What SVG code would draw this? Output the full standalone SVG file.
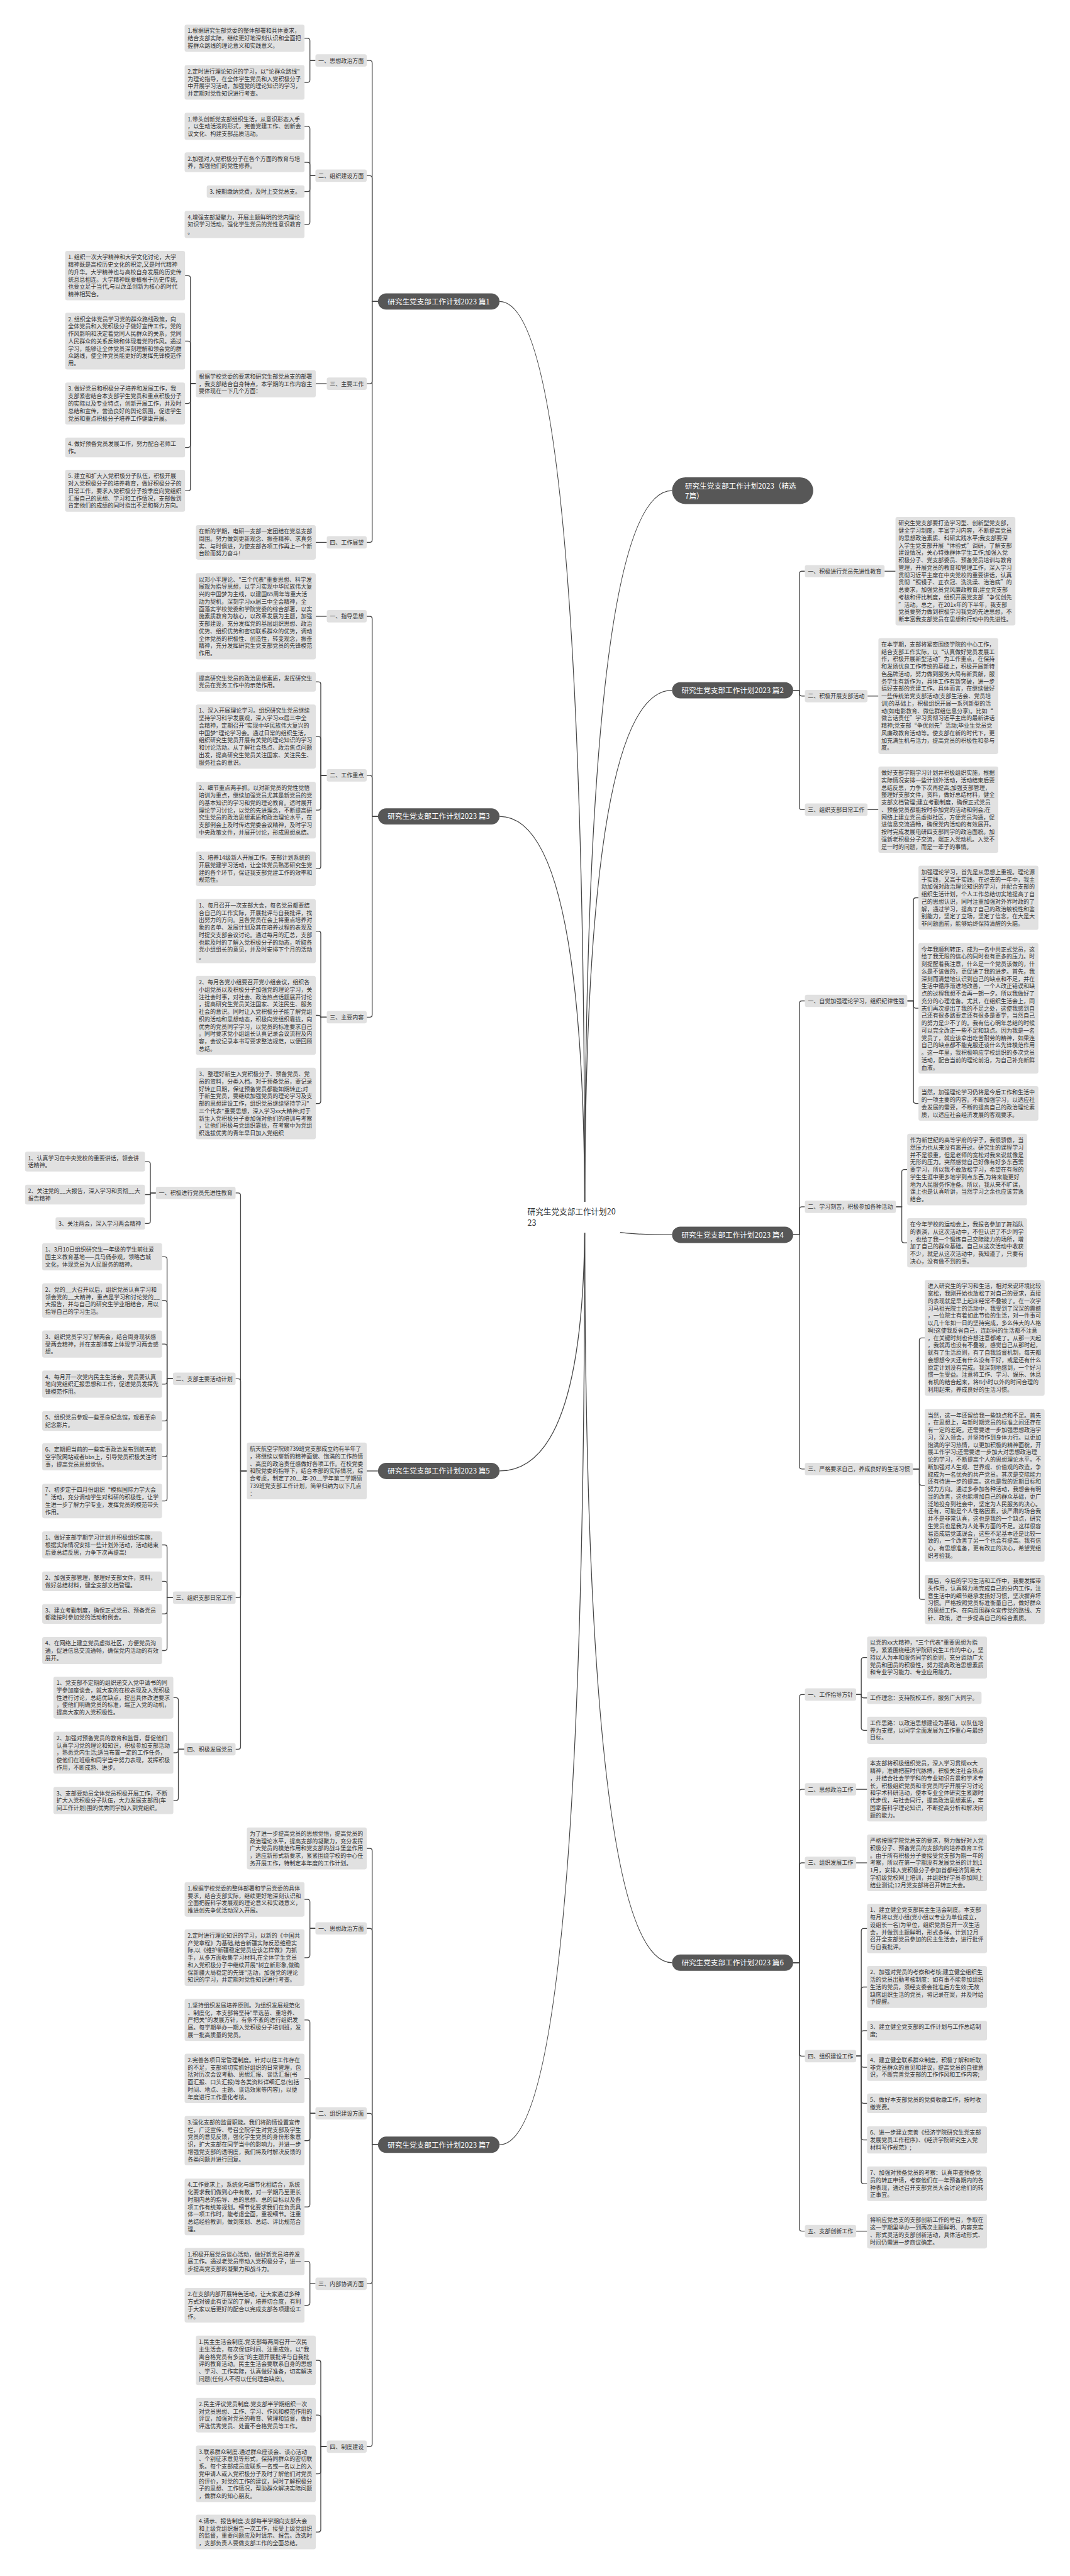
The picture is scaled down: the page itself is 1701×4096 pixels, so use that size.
<svg xmlns="http://www.w3.org/2000/svg" width="1701" height="4096" viewBox="0 0 1701 4096">
<style>
.b{fill:#e1e1e1;rx:5px}
.t{font-family:"Noto Sans CJK SC","Noto Sans",sans-serif;font-size:13.6px;fill:#333}
.p{fill:#575757}
.pt{font-family:"Noto Sans CJK SC","Noto Sans",sans-serif;font-size:17.5px;fill:#fff}
.rt{font-family:"Noto Sans CJK SC","Noto Sans",sans-serif;font-size:19px;fill:#333}
.c{fill:none;stroke:#454545;stroke-width:2}
</style>
<rect width="1701" height="4096" fill="#fff"/>
<g transform="scale(0.664)">
<g id="connectors" class="c">
<path d="M1196 722Q1400 722 1400 2915"/>
<path d="M1196 1955Q1400 1955 1400 2915"/>
<path d="M1196 3522.5Q1400 3522.5 1400 2915"/>
<path d="M1196 5136Q1400 5136 1400 2915"/>
<path d="M1400 2915Q1400 1175 1609 1175"/>
<path d="M1400 2915Q1400 1653 1609 1653"/>
<path d="M1400 2915Q1400 2957 1609 2957"/>
<path d="M1400 2915Q1400 4700 1609 4700"/>
<path d="M905 722H891V150.85Q891 144.85 885 144.85H878"/>
<path d="M905 722H891V426.85Q891 420.85 885 420.85H878"/>
<path d="M905 722H891V912.85Q891 918.85 885 918.85H878"/>
<path d="M905 722H891V1292.85Q891 1298.85 885 1298.85H878"/>
<path d="M755.2 144.85H742V97.55Q742 91.55 736 91.55H729"/>
<path d="M755.2 144.85H742V191.4Q742 197.4 736 197.4H729"/>
<path d="M755.2 420.85H742V308.55Q742 302.55 736 302.55H729"/>
<path d="M755.2 420.85H742V394.7Q742 388.7 736 388.7H729"/>
<path d="M755.2 420.85H742V452.85Q742 458.85 736 458.85H729"/>
<path d="M755.2 420.85H742V531.55Q742 537.55 736 537.55H729"/>
<path d="M782.4 918.85H756"/>
<path d="M469 918.85H456V666.1Q456 660.1 450 660.1H443"/>
<path d="M469 918.85H456V822.95Q456 816.95 450 816.95H443"/>
<path d="M469 918.85H456V960.25Q456 966.25 450 966.25H443"/>
<path d="M469 918.85H456V1065.7Q456 1071.7 450 1071.7H443"/>
<path d="M469 918.85H456V1169.25Q456 1175.25 450 1175.25H443"/>
<path d="M782.4 1298.85H756"/>
<path d="M905 1955H891V1481.85Q891 1475.85 885 1475.85H878"/>
<path d="M905 1955H891V1862.85Q891 1856.85 885 1856.85H878"/>
<path d="M905 1955H891V2429.85Q891 2435.85 885 2435.85H878"/>
<path d="M782.4 1475.85H756"/>
<path d="M782.4 1856.85H768V1638.7Q768 1632.7 762 1632.7H756"/>
<path d="M782.4 1856.85H768V1769.8Q768 1763.8 762 1763.8H756"/>
<path d="M782.4 1856.85H768V1933.95Q768 1939.95 762 1939.95H756"/>
<path d="M782.4 1856.85H768V2074.4Q768 2080.4 762 2080.4H756"/>
<path d="M782.4 2435.85H768V2235.8Q768 2229.8 762 2229.8H756"/>
<path d="M782.4 2435.85H768V2437.5Q768 2431.5 762 2431.5H756"/>
<path d="M782.4 2435.85H768V2636.65Q768 2642.65 762 2642.65H756"/>
<path d="M905 3522.5H878"/>
<path d="M591 3522.5H576V2862.85Q576 2856.85 570 2856.85H564"/>
<path d="M591 3522.5H576V3307.85Q576 3301.85 570 3301.85H564"/>
<path d="M591 3522.5H576V3819.85Q576 3825.85 570 3825.85H564"/>
<path d="M591 3522.5H576V4182.85Q576 4188.85 570 4188.85H564"/>
<path d="M373.2 2856.85H360V2787.7Q360 2781.7 354 2781.7H347"/>
<path d="M373.2 2856.85H360V2860.7H347"/>
<path d="M373.2 2856.85H360V2923.85Q360 2929.85 354 2929.85H347"/>
<path d="M414 3301.85H400V3015.55Q400 3009.55 394 3009.55H388"/>
<path d="M414 3301.85H400V3120.4Q400 3114.4 394 3114.4H388"/>
<path d="M414 3301.85H400V3224.55Q400 3218.55 394 3218.55H388"/>
<path d="M414 3301.85H400V3308.55Q400 3314.55 394 3314.55H388"/>
<path d="M414 3301.85H400V3396.7Q400 3402.7 394 3402.7H388"/>
<path d="M414 3301.85H400V3482.55Q400 3488.55 394 3488.55H388"/>
<path d="M414 3301.85H400V3588.4Q400 3594.4 394 3594.4H388"/>
<path d="M414 3825.85H400V3705.55Q400 3699.55 394 3699.55H388"/>
<path d="M414 3825.85H400V3792.7Q400 3786.7 394 3786.7H388"/>
<path d="M414 3825.85H400V3858.7Q400 3864.7 394 3864.7H388"/>
<path d="M414 3825.85H400V3946.55Q400 3952.55 394 3952.55H388"/>
<path d="M441.2 4188.85H427V4071.25Q427 4065.25 421 4065.25H415"/>
<path d="M441.2 4188.85H427V4191.25Q427 4197.25 421 4197.25H415"/>
<path d="M441.2 4188.85H427V4305.55Q427 4311.55 421 4311.55H415"/>
<path d="M905 5136H891V4432.25Q891 4426.25 885 4426.25H878"/>
<path d="M905 5136H891V4623.85Q891 4617.85 885 4617.85H878"/>
<path d="M905 5136H891V5066.85Q891 5060.85 885 5060.85H878"/>
<path d="M905 5136H891V5462.85Q891 5468.85 885 5468.85H878"/>
<path d="M905 5136H891V5852.85Q891 5858.85 885 5858.85H878"/>
<path d="M755.2 4617.85H742V4554.4Q742 4548.4 736 4548.4H729"/>
<path d="M755.2 4617.85H742V4681.95Q742 4687.95 736 4687.95H729"/>
<path d="M755.2 5060.85H742V4843.25Q742 4837.25 736 4837.25H729"/>
<path d="M755.2 5060.85H742V4983.1Q742 4977.1 736 4977.1H729"/>
<path d="M755.2 5060.85H742V5120.1Q742 5126.1 736 5126.1H729"/>
<path d="M755.2 5060.85H742V5278.95Q742 5284.95 736 5284.95H729"/>
<path d="M755.2 5468.85H742V5421.55Q742 5415.55 736 5415.55H729"/>
<path d="M755.2 5468.85H742V5514.4Q742 5520.4 736 5520.4H729"/>
<path d="M782.4 5858.85H768V5658.1Q768 5652.1 762 5652.1H756"/>
<path d="M782.4 5858.85H768V5789.4Q768 5783.4 762 5783.4H756"/>
<path d="M782.4 5858.85H768V5917.95Q768 5923.95 762 5923.95H756"/>
<path d="M782.4 5858.85H768V6057.4Q768 6063.4 762 6063.4H756"/>
<path d="M1899 1653H1914V1373.85Q1914 1367.85 1920 1367.85H1927"/>
<path d="M1899 1653H1914V1660.85Q1914 1666.85 1920 1666.85H1927"/>
<path d="M1899 1653H1914V1932.85Q1914 1938.85 1920 1938.85H1927"/>
<path d="M2117.8 1367.85H2144"/>
<path d="M2077 1666.85H2103"/>
<path d="M2077 1938.85H2103"/>
<path d="M1899 2957H1914V2402.85Q1914 2396.85 1920 2396.85H1927"/>
<path d="M1899 2957H1914V2895.85Q1914 2889.85 1920 2889.85H1927"/>
<path d="M1899 2957H1914V3511.85Q1914 3517.85 1920 3517.85H1927"/>
<path d="M2172.2 2396.85H2187V2155.8Q2187 2149.8 2193 2149.8H2199"/>
<path d="M2172.2 2396.85H2187V2408.45Q2187 2414.45 2193 2414.45H2199"/>
<path d="M2172.2 2396.85H2187V2636.4Q2187 2642.4 2193 2642.4H2199"/>
<path d="M2145 2889.85H2159V2806.65Q2159 2800.65 2165 2800.65H2172"/>
<path d="M2145 2889.85H2159V2970.1Q2159 2976.1 2165 2976.1H2172"/>
<path d="M2185.8 3517.85H2201V3209.75Q2201 3203.75 2207 3203.75H2214"/>
<path d="M2185.8 3517.85H2201V3551Q2201 3557 2207 3557H2214"/>
<path d="M2185.8 3517.85H2201V3824.1Q2201 3830.1 2207 3830.1H2214"/>
<path d="M1899 4700H1914V4063.85Q1914 4057.85 1920 4057.85H1927"/>
<path d="M1899 4700H1914V4290.85Q1914 4284.85 1920 4284.85H1927"/>
<path d="M1899 4700H1914V4466.85Q1914 4460.85 1920 4460.85H1927"/>
<path d="M1899 4700H1914V4917.85Q1914 4923.85 1920 4923.85H1927"/>
<path d="M1899 4700H1914V5336.85Q1914 5342.85 1920 5342.85H1927"/>
<path d="M2049.8 4057.85H2062V3975.25Q2062 3969.25 2068 3969.25H2076"/>
<path d="M2049.8 4057.85H2062V4059.85Q2062 4065.85 2068 4065.85H2076"/>
<path d="M2049.8 4057.85H2062V4137.55Q2062 4143.55 2068 4143.55H2076"/>
<path d="M2049.8 4284.85H2076"/>
<path d="M2049.8 4460.85H2076"/>
<path d="M2049.8 4923.85H2062V4624.1Q2062 4618.1 2068 4618.1H2076"/>
<path d="M2049.8 4923.85H2062V4764.25Q2062 4758.25 2068 4758.25H2076"/>
<path d="M2049.8 4923.85H2062V4868.7Q2062 4862.7 2068 4862.7H2076"/>
<path d="M2049.8 4923.85H2062V4944.55Q2062 4950.55 2068 4950.55H2076"/>
<path d="M2049.8 4923.85H2062V5030.7Q2062 5036.7 2068 5036.7H2076"/>
<path d="M2049.8 4923.85H2062V5118.55Q2062 5124.55 2068 5124.55H2076"/>
<path d="M2049.8 4923.85H2062V5223.4Q2062 5229.4 2068 5229.4H2076"/>
<path d="M2049.8 5342.85H2076"/>
</g>

<g id="root" transform="translate(1255,2878)"><rect width="230" height="74" fill="#fff"/><text class="rt"><tspan x="8" y="30">研究生党支部工作计划20</tspan><tspan x="8" y="58">23</tspan></text></g>

<g id="main1" transform="translate(905,702.5)"><rect class="p" width="291" height="39" rx="19.5"/><text class="pt" x="145.5" y="26" text-anchor="middle">研究生党支部工作计划2023 篇1</text></g>
<g id="main3" transform="translate(905,1935.5)"><rect class="p" width="291" height="39" rx="19.5"/><text class="pt" x="145.5" y="26" text-anchor="middle">研究生党支部工作计划2023 篇3</text></g>
<g id="main5" transform="translate(905,3503)"><rect class="p" width="291" height="39" rx="19.5"/><text class="pt" x="145.5" y="26" text-anchor="middle">研究生党支部工作计划2023 篇5</text></g>
<g id="main7" transform="translate(905,5116.5)"><rect class="p" width="291" height="39" rx="19.5"/><text class="pt" x="145.5" y="26" text-anchor="middle">研究生党支部工作计划2023 篇7</text></g>
<g id="mainsel" transform="translate(1609,1143)"><rect class="p" width="338" height="64" rx="32"/><text class="pt"><tspan x="31" y="27.6">研究生党支部工作计划2023（精选</tspan><tspan x="31" y="50.6">7篇）</tspan></text></g>
<g id="main2" transform="translate(1609,1633.5)"><rect class="p" width="290" height="39" rx="19.5"/><text class="pt" x="145" y="26" text-anchor="middle">研究生党支部工作计划2023 篇2</text></g>
<g id="main4" transform="translate(1609,2937.5)"><rect class="p" width="290" height="39" rx="19.5"/><text class="pt" x="145" y="26" text-anchor="middle">研究生党支部工作计划2023 篇4</text></g>
<g id="main6" transform="translate(1609,4680.5)"><rect class="p" width="290" height="39" rx="19.5"/><text class="pt" x="145" y="26" text-anchor="middle">研究生党支部工作计划2023 篇6</text></g>

<!-- 篇1 -->
<g id="a-l1" transform="translate(755.2,130)"><rect class="b" width="122.8" height="29.7"/><text class="t" x="7" y="20">一、思想政治方面</text></g>
<g id="a-l2" transform="translate(755.2,406)"><rect class="b" width="122.8" height="29.7"/><text class="t" x="7" y="20">二、组织建设方面</text></g>
<g id="a-l3" transform="translate(782.4,904)"><rect class="b" width="95.6" height="29.7"/><text class="t" x="7" y="20">三、主要工作</text></g>
<g id="a-l4" transform="translate(782.4,1284)"><rect class="b" width="95.6" height="29.7"/><text class="t" x="7" y="20">四、工作展望</text></g>
<g id="a1" transform="translate(442,59)"><rect class="b" width="287" height="65.1"/><text class="t"><tspan x="7" y="20">1.根据研究生部党委的整体部署和具体要求，</tspan><tspan x="7" y="37.7">结合支部实际，继续更好地深刻认识和全面把</tspan><tspan x="7" y="55.4">握群众路线的理论意义和实践意义。</tspan></text></g>
<g id="a2" transform="translate(442,156)"><rect class="b" width="287" height="82.8"/><text class="t"><tspan x="7" y="20">2.定时进行理论知识的学习，以"论群众路线"</tspan><tspan x="7" y="37.7">为理论指导，在全体学生党员和入党积极分子</tspan><tspan x="7" y="55.4">中开展学习活动，加强党的理论知识的学习，</tspan><tspan x="7" y="73.1">并定期对党性知识进行考查。</tspan></text></g>
<g id="b1" transform="translate(442,270)"><rect class="b" width="287" height="65.1"/><text class="t"><tspan x="7" y="20">1.带头创新党支部组织生活，从意识形态入手</tspan><tspan x="7" y="37.7">，以生动活泼的形式，完善党建工作、创新会</tspan><tspan x="7" y="55.4">议文化、构建支部品质活动。</tspan></text></g>
<g id="b2" transform="translate(442,365)"><rect class="b" width="287" height="47.4"/><text class="t"><tspan x="7" y="20">2.加强对入党积极分子在各个方面的教育与培</tspan><tspan x="7" y="37.7">养，加强他们的党性修养。</tspan></text></g>
<g id="b3" transform="translate(495,444)"><rect class="b" width="234" height="29.7"/><text class="t" x="7" y="20">3. 按期缴纳党费，及时上交党总支。</text></g>
<g id="b4" transform="translate(442,505)"><rect class="b" width="287" height="65.1"/><text class="t"><tspan x="7" y="20">4.增强支部凝聚力，开展主题鲜明的党内理论</tspan><tspan x="7" y="37.7">知识学习活动，强化学生党员的党性意识教育</tspan><tspan x="7" y="55.4">。</tspan></text></g>
<g id="c0" transform="translate(469,886.3)"><rect class="b" width="287" height="65.1"/><text class="t"><tspan x="7" y="20">根据学校党委的要求和研究生部党总支的部署</tspan><tspan x="7" y="37.7">，我支部结合自身特点，本学期的工作内容主</tspan><tspan x="7" y="55.4">要体现在一下几个方面：</tspan></text></g>
<g id="c1" transform="translate(156,601)"><rect class="b" width="287" height="118.2"/><text class="t"><tspan x="7" y="20">1. 组织一次大学精神和大学文化讨论，大学</tspan><tspan x="7" y="37.7">精神既是高校历史文化的积淀,又是时代精神</tspan><tspan x="7" y="55.4">的升华。大学精神也与高校自身发展的历史传</tspan><tspan x="7" y="73.1">统息息相连。大学精神既要植根于历史传统,</tspan><tspan x="7" y="90.8">也要立足于当代,与以改革创新为核心的时代</tspan><tspan x="7" y="108.5">精神相契合。</tspan></text></g>
<g id="c2" transform="translate(156,749)"><rect class="b" width="287" height="135.9"/><text class="t"><tspan x="7" y="20">2. 组织全体党员学习党的群众路线政策，向</tspan><tspan x="7" y="37.7">全体党员和入党积极分子做好宣传工作，党的</tspan><tspan x="7" y="55.4">作风影响和决定着党同人民群众的关系，党同</tspan><tspan x="7" y="73.1">人民群众的关系反映和体现着党的作风。通过</tspan><tspan x="7" y="90.8">学习，能够让全体党员深刻理解和领会党的群</tspan><tspan x="7" y="108.5">众路线，使全体党员能更好的发挥先锋模范作</tspan><tspan x="7" y="126.2">用。</tspan></text></g>
<g id="c3" transform="translate(156,916)"><rect class="b" width="287" height="100.5"/><text class="t"><tspan x="7" y="20">3. 做好党员和积极分子培养和发展工作，我</tspan><tspan x="7" y="37.7">支部紧密结合本支部学生党员和重点积极分子</tspan><tspan x="7" y="55.4">的实际以及专业特点，创新开展工作，并及时</tspan><tspan x="7" y="73.1">总结和宣传，营造良好的舆论氛围，促进学生</tspan><tspan x="7" y="90.8">党员和重点积极分子培养工作健康开展。</tspan></text></g>
<g id="c4" transform="translate(156,1048)"><rect class="b" width="287" height="47.4"/><text class="t"><tspan x="7" y="20">4. 做好预备党员发展工作，努力配合老师工</tspan><tspan x="7" y="37.7">作。</tspan></text></g>
<g id="c5" transform="translate(156,1125)"><rect class="b" width="287" height="100.5"/><text class="t"><tspan x="7" y="20">5. 建立和扩大入党积极分子队伍，积极开展</tspan><tspan x="7" y="37.7">对入党积极分子的培养教育，做好积极分子的</tspan><tspan x="7" y="55.4">日常工作，要求入党积极分子按季度向党组织</tspan><tspan x="7" y="73.1">汇报自己的思想、学习和工作情况，支部做到</tspan><tspan x="7" y="90.8">肯定他们的成绩的同时指出不足和努力方向。</tspan></text></g>
<g id="d1" transform="translate(469,1257.45)"><rect class="b" width="287" height="82.8"/><text class="t"><tspan x="7" y="20">在新的学期，电研一支部一定团结在党总支部</tspan><tspan x="7" y="37.7">周围。努力做到更新观念、振奋精神、求真务</tspan><tspan x="7" y="55.4">实、与时俱进，为使支部各项工作再上一个新</tspan><tspan x="7" y="73.1">台阶而努力奋斗!</tspan></text></g>

<!-- 篇3 -->
<g id="e-l1" transform="translate(782.4,1461)"><rect class="b" width="95.6" height="29.7"/><text class="t" x="7" y="20">一、指导思想</text></g>
<g id="e-l2" transform="translate(782.4,1842)"><rect class="b" width="95.6" height="29.7"/><text class="t" x="7" y="20">二、工作重点</text></g>
<g id="e-l3" transform="translate(782.4,2421)"><rect class="b" width="95.6" height="29.7"/><text class="t" x="7" y="20">三、主要内容</text></g>
<g id="e1" transform="translate(469,1372.5)"><rect class="b" width="287" height="206.7"/><text class="t"><tspan x="7" y="20">以邓小平理论、"三个代表"重要思想、科学发</tspan><tspan x="7" y="37.7">展观为指导思想，以学习实现中华民族伟大复</tspan><tspan x="7" y="55.4">兴的中国梦为主线，以建国65周年等重大活</tspan><tspan x="7" y="73.1">动为契机，深刻学习xx届三中全会精神，全</tspan><tspan x="7" y="90.8">面落实学校党委和学院党委的综合部署，以实</tspan><tspan x="7" y="108.5">施素质教育为核心，以改革发展为主题，加强</tspan><tspan x="7" y="126.2">支部建设，充分发挥党的基层组织思想、政治</tspan><tspan x="7" y="143.9">优势、组织优势和密切联系群众的优势，调动</tspan><tspan x="7" y="161.6">全体党员的积极性、创造性，转变观念，振奋</tspan><tspan x="7" y="179.3">精神，充分发挥研究生党支部党员的先锋模范</tspan><tspan x="7" y="197">作用。</tspan></text></g>
<g id="f1" transform="translate(469,1609)"><rect class="b" width="287" height="47.4"/><text class="t"><tspan x="7" y="20">提高研究生党员的政治思想素质，发挥研究生</tspan><tspan x="7" y="37.7">党员在党务工作中的示范作用。</tspan></text></g>
<g id="f2" transform="translate(469,1687)"><rect class="b" width="287" height="153.6"/><text class="t"><tspan x="7" y="20">1、深入开展理论学习。组织研究生党员继续</tspan><tspan x="7" y="37.7">坚持学习科学发展观，深入学习xx届三中全</tspan><tspan x="7" y="55.4">会精神，定期召开"实现中华民族伟大复兴的</tspan><tspan x="7" y="73.1">中国梦"理论学习会。通过日常的组织生活，</tspan><tspan x="7" y="90.8">组织研究生党员开展有关党的理论知识的学习</tspan><tspan x="7" y="108.5">和讨论活动。从了解社会热点、政治焦点问题</tspan><tspan x="7" y="126.2">出发，提高研究生党员关注国家、关注民生、</tspan><tspan x="7" y="143.9">服务社会的意识。</tspan></text></g>
<g id="f3" transform="translate(469,1872)"><rect class="b" width="287" height="135.9"/><text class="t"><tspan x="7" y="20">2、细节重点两手抓。以对新党员的党性觉悟</tspan><tspan x="7" y="37.7">培训为重点，继续加强党员尤其是新党员的党</tspan><tspan x="7" y="55.4">的基本知识的学习和党的理论教育。适时展开</tspan><tspan x="7" y="73.1">理论学习讨论，以党的先进理念，不断提高研</tspan><tspan x="7" y="90.8">究生党员的政治思想素质和政治理论水平，在</tspan><tspan x="7" y="108.5">支部例会上及时传达党委会议精神，及时学习</tspan><tspan x="7" y="126.2">中央政策文件，并展开讨论，形成思想总结。</tspan></text></g>
<g id="f4" transform="translate(469,2039)"><rect class="b" width="287" height="82.8"/><text class="t"><tspan x="7" y="20">3、培养14级新人开展工作。支部计划系统的</tspan><tspan x="7" y="37.7">开展党建学习活动，让全体党员熟悉研究生党</tspan><tspan x="7" y="55.4">建的各个环节，保证我支部党建工作的效率和</tspan><tspan x="7" y="73.1">规范性。</tspan></text></g>
<g id="g1" transform="translate(469,2153)"><rect class="b" width="287" height="153.6"/><text class="t"><tspan x="7" y="20">1、每月召开一次支部大会，每名党员都要结</tspan><tspan x="7" y="37.7">合自己的工作实际，开展批评与自我批评，找</tspan><tspan x="7" y="55.4">出努力的方向。且各党员在会上将重点培养对</tspan><tspan x="7" y="73.1">象的名单、发展计划及其在培养过程的表现及</tspan><tspan x="7" y="90.8">时提交支部会议讨论。通过每月的汇总，支部</tspan><tspan x="7" y="108.5">也能及时的了解入党积极分子的动态，听取各</tspan><tspan x="7" y="126.2">党小组组长的意见，并及时安排下个月的活动</tspan><tspan x="7" y="143.9">。</tspan></text></g>
<g id="g2" transform="translate(469,2337)"><rect class="b" width="287" height="189"/><text class="t"><tspan x="7" y="20">2、每月各党小组要召开党小组会议，组织各</tspan><tspan x="7" y="37.7">小组党员以及积极分子加强党的理论学习，关</tspan><tspan x="7" y="55.4">注社会时事，对社会、政治热点话题展开讨论</tspan><tspan x="7" y="73.1">，提高研究生党员关注国家、关注民生、服务</tspan><tspan x="7" y="90.8">社会的意识。同时让入党积极分子能了解党组</tspan><tspan x="7" y="108.5">织的活动和思想动态，积极向党组织靠拢，向</tspan><tspan x="7" y="126.2">优秀的党员同学学习，以党员的标准要求自己</tspan><tspan x="7" y="143.9">。同时要求党小组组长认真记录会议流程及内</tspan><tspan x="7" y="161.6">容，会议记录本书写要求整洁规范，以便回顾</tspan><tspan x="7" y="179.3">总结。</tspan></text></g>
<g id="g3" transform="translate(469,2557)"><rect class="b" width="287" height="171.3"/><text class="t"><tspan x="7" y="20">3、整理好新生入党积极分子、预备党员、党</tspan><tspan x="7" y="37.7">员的资料，分类入档。对于预备党员，要记录</tspan><tspan x="7" y="55.4">好转正日期，保证预备党员都能如期转正;对</tspan><tspan x="7" y="73.1">于新生党员，要继续加强党员的理论学习及支</tspan><tspan x="7" y="90.8">部的思想建设工作，组织党员继续坚持学习"</tspan><tspan x="7" y="108.5">三个代表"重要思想，深入学习xx大精神;对于</tspan><tspan x="7" y="126.2">新生入党积极分子要加强对他们的培训与考察</tspan><tspan x="7" y="143.9">，让他们积极与党组织靠拢，在考察中为党组</tspan><tspan x="7" y="161.6">织选拔优秀的青年早日加入党组织</tspan></text></g>

<!-- 篇5 -->
<g id="m0" transform="translate(591,3454.55)"><rect class="b" width="287" height="135.9"/><text class="t"><tspan x="7" y="20">航天航空学院硕739班党支部成立约有半年了</tspan><tspan x="7" y="37.7">，将继续以崭新的精神面貌、饱满的工作热情</tspan><tspan x="7" y="55.4">、高度的政治责任感做好各项工作。在校党委</tspan><tspan x="7" y="73.1">和院党委的指导下，结合本部的实际情况，综</tspan><tspan x="7" y="90.8">合考虑，制定了20__年-20__学年第二学期硕</tspan><tspan x="7" y="108.5">739班党支部工作计划，简单归纳为以下几点</tspan><tspan x="7" y="126.2">：</tspan></text></g>
<g id="h-l" transform="translate(373.2,2842)"><rect class="b" width="190.8" height="29.7"/><text class="t" x="7" y="20">一、积极进行党员先进性教育</text></g>
<g id="i-l" transform="translate(414,3287)"><rect class="b" width="150" height="29.7"/><text class="t" x="7" y="20">二、支部主要活动计划</text></g>
<g id="j-l" transform="translate(414,3811)"><rect class="b" width="150" height="29.7"/><text class="t" x="7" y="20">三、组织支部日常工作</text></g>
<g id="k-l" transform="translate(441.2,4174)"><rect class="b" width="122.8" height="29.7"/><text class="t" x="7" y="20">四、积极发展党员</text></g>
<g id="h1" transform="translate(60,2758)"><rect class="b" width="287" height="47.4"/><text class="t"><tspan x="7" y="20">1、认真学习在中央党校的重要讲话，领会讲</tspan><tspan x="7" y="37.7">话精神。</tspan></text></g>
<g id="h2" transform="translate(60,2837)"><rect class="b" width="287" height="47.4"/><text class="t"><tspan x="7" y="20">2、关注党的__大报告，深入学习和贯彻__大</tspan><tspan x="7" y="37.7">报告精神</tspan></text></g>
<g id="h3" transform="translate(133,2915)"><rect class="b" width="214" height="29.7"/><text class="t" x="7" y="20">3、关注两会，深入学习两会精神</text></g>
<g id="i1" transform="translate(101,2977)"><rect class="b" width="287" height="65.1"/><text class="t"><tspan x="7" y="20">1、3月10日组织研究生一年级的学生前往爱</tspan><tspan x="7" y="37.7">国主义教育基地——兵马俑参观，领略古城</tspan><tspan x="7" y="55.4">文化，体现党员为人民服务的精神。</tspan></text></g>
<g id="i2" transform="translate(101,3073)"><rect class="b" width="287" height="82.8"/><text class="t"><tspan x="7" y="20">2、党的__大召开以后，组织党员认真学习和</tspan><tspan x="7" y="37.7">领会党的__大精神，重点是学习和讨论党的__</tspan><tspan x="7" y="55.4">大报告，并与自己的研究生学业相结合，用以</tspan><tspan x="7" y="73.1">指导自己的学习生活。</tspan></text></g>
<g id="i3" transform="translate(101,3186)"><rect class="b" width="287" height="65.1"/><text class="t"><tspan x="7" y="20">3、组织党员学习了解两会，结合周身现状感</tspan><tspan x="7" y="37.7">受两会精神，并在支部博客上体现学习两会感</tspan><tspan x="7" y="55.4">想。</tspan></text></g>
<g id="i4" transform="translate(101,3282)"><rect class="b" width="287" height="65.1"/><text class="t"><tspan x="7" y="20">4、每月开一次党内民主生活会，党员要认真</tspan><tspan x="7" y="37.7">地向党组织汇报思想和工作，促进党员发挥先</tspan><tspan x="7" y="55.4">锋模范作用。</tspan></text></g>
<g id="i5" transform="translate(101,3379)"><rect class="b" width="287" height="47.4"/><text class="t"><tspan x="7" y="20">5、组织党员参观一些革命纪念馆，观看革命</tspan><tspan x="7" y="37.7">纪念影片。</tspan></text></g>
<g id="i6" transform="translate(101,3456)"><rect class="b" width="287" height="65.1"/><text class="t"><tspan x="7" y="20">6、定期把当前的一些实事政治发布到航天航</tspan><tspan x="7" y="37.7">空学院网站或者bbs上，引导党员积极关注时</tspan><tspan x="7" y="55.4">事，提高党员思想觉悟。</tspan></text></g>
<g id="i7" transform="translate(101,3553)"><rect class="b" width="287" height="82.8"/><text class="t"><tspan x="7" y="20">7、初步定于四月份组织“模拟国际力学大会</tspan><tspan x="7" y="37.7">”活动，充分调动学生对科研的积极性，让学</tspan><tspan x="7" y="55.4">生进一步了解力学专业，发挥党员的模范带头</tspan><tspan x="7" y="73.1">作用。</tspan></text></g>
<g id="j1" transform="translate(101,3667)"><rect class="b" width="287" height="65.1"/><text class="t"><tspan x="7" y="20">1、做好支部学期学习计划并积极组织实施，</tspan><tspan x="7" y="37.7">根据实际情况安排一些计划外活动，活动结束</tspan><tspan x="7" y="55.4">后要总结反思，力争下次再提高!</tspan></text></g>
<g id="j2" transform="translate(101,3763)"><rect class="b" width="287" height="47.4"/><text class="t"><tspan x="7" y="20">2、加强支部管理，整理好支部文件，资料，</tspan><tspan x="7" y="37.7">做好总结材料，健全支部文档管理。</tspan></text></g>
<g id="j3" transform="translate(101,3841)"><rect class="b" width="287" height="47.4"/><text class="t"><tspan x="7" y="20">3、建立考勤制度，确保正式党员、预备党员</tspan><tspan x="7" y="37.7">都能按时参加党的活动和例会。</tspan></text></g>
<g id="j4" transform="translate(101,3920)"><rect class="b" width="287" height="65.1"/><text class="t"><tspan x="7" y="20">4、在网络上建立党员虚拟社区，方便党员沟</tspan><tspan x="7" y="37.7">通，促进信息交流通畅，确保党内活动的有效</tspan><tspan x="7" y="55.4">展开。</tspan></text></g>
<g id="k1" transform="translate(128,4015)"><rect class="b" width="287" height="100.5"/><text class="t"><tspan x="7" y="20">1、党支部不定期的组织递交入党申请书的同</tspan><tspan x="7" y="37.7">学参加座谈会，就大家的在校表现及入党积极</tspan><tspan x="7" y="55.4">性进行讨论，总结优缺点，提出具体改进要求</tspan><tspan x="7" y="73.1">，使他们明确党员的标准，端正入党的动机，</tspan><tspan x="7" y="90.8">提高大家的入党积极性。</tspan></text></g>
<g id="k2" transform="translate(128,4147)"><rect class="b" width="287" height="100.5"/><text class="t"><tspan x="7" y="20">2、加强对预备党员的教育和监督，督促他们</tspan><tspan x="7" y="37.7">认真学习党的理论和知识，积极参加支部活动</tspan><tspan x="7" y="55.4">，熟悉党内生活;适当布置一定的工作任务，</tspan><tspan x="7" y="73.1">使他们在班级和同学当中努力表现，发挥积极</tspan><tspan x="7" y="90.8">作用，不断成熟、进步。</tspan></text></g>
<g id="k3" transform="translate(128,4279)"><rect class="b" width="287" height="65.1"/><text class="t"><tspan x="7" y="20">3、支部要动员全体党员积极开展工作，不断</tspan><tspan x="7" y="37.7">扩大入党积极分子队伍，大力发展支部周(车</tspan><tspan x="7" y="55.4">间工作计划)围的优秀同学加入到党组织。</tspan></text></g>

<!-- 篇7 -->
<g id="n0" transform="translate(591,4376)"><rect class="b" width="287" height="100.5"/><text class="t"><tspan x="7" y="20">为了进一步提高党员的思想觉悟，提高党员的</tspan><tspan x="7" y="37.7">政治理论水平，提高支部的凝聚力，充分发挥</tspan><tspan x="7" y="55.4">广大党员的模范作用和党支部的战斗堡垒作用</tspan><tspan x="7" y="73.1">，适应新形式新要求，紧紧围绕学校的中心任</tspan><tspan x="7" y="90.8">务开展工作，特制定本年度的工作计划。</tspan></text></g>
<g id="p-l" transform="translate(755.2,4603)"><rect class="b" width="122.8" height="29.7"/><text class="t" x="7" y="20">一、思想政治方面</text></g>
<g id="q-l" transform="translate(755.2,5046)"><rect class="b" width="122.8" height="29.7"/><text class="t" x="7" y="20">二、组织建设方面</text></g>
<g id="r-l" transform="translate(755.2,5454)"><rect class="b" width="122.8" height="29.7"/><text class="t" x="7" y="20">三、内部协调方面</text></g>
<g id="s-l" transform="translate(782.4,5844)"><rect class="b" width="95.6" height="29.7"/><text class="t" x="7" y="20">四、制度建设</text></g>
<g id="p1" transform="translate(442,4507)"><rect class="b" width="287" height="82.8"/><text class="t"><tspan x="7" y="20">1.根据学校党委的整体部署和学员党委的具体</tspan><tspan x="7" y="37.7">要求，结合支部实际，继续更好地深刻认识和</tspan><tspan x="7" y="55.4">全面把握科学发展观的理论意义和实践意义，</tspan><tspan x="7" y="73.1">推进创先争优活动深入开展。</tspan></text></g>
<g id="p2" transform="translate(442,4620)"><rect class="b" width="287" height="135.9"/><text class="t"><tspan x="7" y="20">2.定时进行理论知识的学习，以新的《中国共</tspan><tspan x="7" y="37.7">产党章程》为基础,结合新疆实际反恐维稳实</tspan><tspan x="7" y="55.4">际,以《维护新疆稳定党员应该怎样做》为抓</tspan><tspan x="7" y="73.1">手，从多方面收集学习材料,在全体学生党员</tspan><tspan x="7" y="90.8">和入党积极分子中继续开展"树立新形象,做确</tspan><tspan x="7" y="108.5">保新疆大局稳定的先锋"活动，加强党的理论</tspan><tspan x="7" y="126.2">知识的学习，并定期对党性知识进行考查。</tspan></text></g>
<g id="q1" transform="translate(442,4787)"><rect class="b" width="287" height="100.5"/><text class="t"><tspan x="7" y="20">1.坚持组织发展培养原则。为组织发展规范化</tspan><tspan x="7" y="37.7">、制度化，本支部将坚持"早选苗、重培养、</tspan><tspan x="7" y="55.4">严把关"的发展方针，有条不紊的进行组织发</tspan><tspan x="7" y="73.1">展。每学期举办一期入党积极分子培训班，发</tspan><tspan x="7" y="90.8">展一批高质量的党员。</tspan></text></g>
<g id="q2" transform="translate(442,4918)"><rect class="b" width="287" height="118.2"/><text class="t"><tspan x="7" y="20">2.完善各项日常管理制度。针对以往工作存在</tspan><tspan x="7" y="37.7">的不足，支部将切实抓好组织的日常管理，包</tspan><tspan x="7" y="55.4">括对历次会议考勤、思想汇报、谈话汇报(书</tspan><tspan x="7" y="73.1">面汇报、口头汇报)等各类资料详细汇总(包括</tspan><tspan x="7" y="90.8">时间、地点、主题、谈话效果等内容)，以便</tspan><tspan x="7" y="108.5">年度进行工作量化考核。</tspan></text></g>
<g id="q3" transform="translate(442,5067)"><rect class="b" width="287" height="118.2"/><text class="t"><tspan x="7" y="20">3.强化支部的监督职能。我们将酌情设置宣传</tspan><tspan x="7" y="37.7">栏，广泛宣传、号召全院学生对党支部及学生</tspan><tspan x="7" y="55.4">党员的意见反馈，强化学生党员的身份形象意</tspan><tspan x="7" y="73.1">识，扩大支部在同学当中的影响力，并进一步</tspan><tspan x="7" y="90.8">增强党支部的透明度，我们将及时解决反馈的</tspan><tspan x="7" y="108.5">各类问题并进行回复。</tspan></text></g>
<g id="q4" transform="translate(442,5217)"><rect class="b" width="287" height="135.9"/><text class="t"><tspan x="7" y="20">4.工作要求上，系统化与细节化相结合，系统</tspan><tspan x="7" y="37.7">化要求我们做到心中有数，对一学期乃至更长</tspan><tspan x="7" y="55.4">时期内总的指导、总的思想、总的目标以及各</tspan><tspan x="7" y="73.1">项工作有统筹规划。细节化要求我们在负责具</tspan><tspan x="7" y="90.8">体一项工作时，能考虑全面，重视细节。注重</tspan><tspan x="7" y="108.5">总结经验教训，做到策划、总结、评比规范合</tspan><tspan x="7" y="126.2">理。</tspan></text></g>
<g id="r1" transform="translate(442,5383)"><rect class="b" width="287" height="65.1"/><text class="t"><tspan x="7" y="20">1.积极开展党员谈心活动，做好新党员培养发</tspan><tspan x="7" y="37.7">展工作。通过老党员带动入党积极分子，进一</tspan><tspan x="7" y="55.4">步提高党支部的凝聚力和战斗力。</tspan></text></g>
<g id="r2" transform="translate(442,5479)"><rect class="b" width="287" height="82.8"/><text class="t"><tspan x="7" y="20">2.在支部内部开展特色活动，让大家通过多种</tspan><tspan x="7" y="37.7">方式对彼此有更深的了解，培养切合度，有利</tspan><tspan x="7" y="55.4">于大家以后更好的配合以完成支部各项建设工</tspan><tspan x="7" y="73.1">作。</tspan></text></g>
<g id="s1" transform="translate(469,5593)"><rect class="b" width="287" height="118.2"/><text class="t"><tspan x="7" y="20">1.民主生活会制度.党支部每两周召开一次民</tspan><tspan x="7" y="37.7">主生活会，每次保证时间、注重成效，以"我</tspan><tspan x="7" y="55.4">离合格党员有多远"的主题开展批评与自我批</tspan><tspan x="7" y="73.1">评的教育活动。民主生活会要联系自身的思想</tspan><tspan x="7" y="90.8">、学习、工作实际，认真做好准备，切实解决</tspan><tspan x="7" y="108.5">问题(任何人不得以任何理由缺席)。</tspan></text></g>
<g id="s2" transform="translate(469,5742)"><rect class="b" width="287" height="82.8"/><text class="t"><tspan x="7" y="20">2.民主评议党员制度.党支部半学期组织一次</tspan><tspan x="7" y="37.7">对党员思想、工作、学习、作风和模范作用的</tspan><tspan x="7" y="55.4">评议，加强对党员的教育、管理和监督，做好</tspan><tspan x="7" y="73.1">评选优秀党员、处置不合格党员等工作。</tspan></text></g>
<g id="s3" transform="translate(469,5856)"><rect class="b" width="287" height="135.9"/><text class="t"><tspan x="7" y="20">3.联系群众制度.通过群众座谈会、谈心活动</tspan><tspan x="7" y="37.7">、个别征求意见等形式，保持同群众的密切联</tspan><tspan x="7" y="55.4">系。每个支部成员应联系一名或一名以上的入</tspan><tspan x="7" y="73.1">党申请人或入党积极分子及时了解他们对党员</tspan><tspan x="7" y="90.8">的评价，对党的工作的建议，同时了解积极分</tspan><tspan x="7" y="108.5">子的思想、工作情况，帮助群众解决实际问题</tspan><tspan x="7" y="126.2">，做群众的知心朋友。</tspan></text></g>
<g id="s4" transform="translate(469,6022)"><rect class="b" width="287" height="82.8"/><text class="t"><tspan x="7" y="20">4.请示、报告制度.支部每半学期向支部大会</tspan><tspan x="7" y="37.7">和上级党组织报告一次工作，接受上级党组织</tspan><tspan x="7" y="55.4">的监督，重要问题应及时请示、报告。改选时</tspan><tspan x="7" y="73.1">，支部负责人要做支部工作的全面总结。</tspan></text></g>

<!-- 篇2 -->
<g id="t-l1" transform="translate(1927,1353)"><rect class="b" width="190.8" height="29.7"/><text class="t" x="7" y="20">一、积极进行党员先进性教育</text></g>
<g id="t-l2" transform="translate(1927,1652)"><rect class="b" width="150" height="29.7"/><text class="t" x="7" y="20">二、积极开展支部活动</text></g>
<g id="t-l3" transform="translate(1927,1924)"><rect class="b" width="150" height="29.7"/><text class="t" x="7" y="20">三、组织支部日常工作</text></g>
<g id="t1" transform="translate(2144,1237.95)"><rect class="b" width="287" height="259.8"/><text class="t"><tspan x="7" y="20">研究生党支部要打造学习型、创新型党支部，</tspan><tspan x="7" y="37.7">健全学习制度，丰富学习内容，不断提高党员</tspan><tspan x="7" y="55.4">的思想政治素质、科研实践水平;我支部要深</tspan><tspan x="7" y="73.1">入学生党支部开展“体验式”调研，了解支部</tspan><tspan x="7" y="90.8">建设情况，关心特殊群体学生工作;加强入党</tspan><tspan x="7" y="108.5">积极分子、党支部委员、预备党员培训与教育</tspan><tspan x="7" y="126.2">管理，开展党员的教育和管理工作，深入学习</tspan><tspan x="7" y="143.9">贯彻习近平主席在中央党校的重要讲话，认真</tspan><tspan x="7" y="161.6">贯彻“照镜子、正衣冠、洗洗澡、治治病”的</tspan><tspan x="7" y="179.3">总要求，加强党员党风廉政教育;建立党支部</tspan><tspan x="7" y="197">考核和评比制度，组织开展党支部“争优创先</tspan><tspan x="7" y="214.7">”活动。总之，在201x年的下半年，我支部</tspan><tspan x="7" y="232.4">党员要努力做到积极学习我党的先进思想，不</tspan><tspan x="7" y="250.1">断丰富我支部党员在思想和行动中的先进性。</tspan></text></g>
<g id="t2" transform="translate(2103,1528.1)"><rect class="b" width="287" height="277.5"/><text class="t"><tspan x="7" y="20">在本学期，支部将紧密围绕学院的中心工作，</tspan><tspan x="7" y="37.7">结合支部工作实际，以“认真做好党员发展工</tspan><tspan x="7" y="55.4">作，积极开展新型活动”为工作重点，在保持</tspan><tspan x="7" y="73.1">和发扬优良工作传统的基础上，积极开展新特</tspan><tspan x="7" y="90.8">色品牌活动，努力做到服务大局有新贡献，服</tspan><tspan x="7" y="108.5">务学生有新作为，具体工作有新突破，进一步</tspan><tspan x="7" y="126.2">搞好支部的党建工作。具体而言，在继续做好</tspan><tspan x="7" y="143.9">一些传统第党支部活动(支部生活会、党员培</tspan><tspan x="7" y="161.6">训)的基础上，积极组织开展一系列新型的活</tspan><tspan x="7" y="179.3">动(如电影教育、微信群组信息分享)。比如“</tspan><tspan x="7" y="197">微言话责任”学习贯彻习近平主席的最新讲话</tspan><tspan x="7" y="214.7">精神;党支部“争优创先”活动;毕业生党员党</tspan><tspan x="7" y="232.4">风廉政教育活动等。使支部在新的时代下，更</tspan><tspan x="7" y="250.1">加充满生机与活力，提高党员的积极性和参与</tspan><tspan x="7" y="267.8">度。</tspan></text></g>
<g id="t3" transform="translate(2103,1835.5)"><rect class="b" width="287" height="206.7"/><text class="t"><tspan x="7" y="20">做好支部学期学习计划并积极组织实施，根据</tspan><tspan x="7" y="37.7">实际情况安排一些计划外活动，活动结束后要</tspan><tspan x="7" y="55.4">总结反思，力争下次再提高;加强支部管理，</tspan><tspan x="7" y="73.1">整理好支部文件，资料，做好总结材料，健全</tspan><tspan x="7" y="90.8">支部文档管理;建立考勤制度，确保正式党员</tspan><tspan x="7" y="108.5">、预备党员都能按时参加党的活动和例会;在</tspan><tspan x="7" y="126.2">网络上建立党员虚拟社区，方便党员沟通，促</tspan><tspan x="7" y="143.9">进信息交流通畅，确保党内活动的有效展开。</tspan><tspan x="7" y="161.6">按时完成发展电研四支部同学的政治面貌。加</tspan><tspan x="7" y="179.3">强新老积极分子交流，端正入党动机。入党不</tspan><tspan x="7" y="197">是一时的问题，而是一辈子的事情。</tspan></text></g>

<!-- 篇4 -->
<g id="u-l" transform="translate(1927,2382)"><rect class="b" width="245.2" height="29.7"/><text class="t" x="7" y="20">一、自觉加强理论学习，组织纪律性强</text></g>
<g id="v-l" transform="translate(1927,2875)"><rect class="b" width="218" height="29.7"/><text class="t" x="7" y="20">二、学习刻苦，积极参加各种活动</text></g>
<g id="w-l" transform="translate(1927,3503)"><rect class="b" width="258.8" height="29.7"/><text class="t" x="7" y="20">三、严格要求自己，养成良好的生活习惯</text></g>
<g id="u1" transform="translate(2199,2073)"><rect class="b" width="287" height="153.6"/><text class="t"><tspan x="7" y="20">加强理论学习，首先是从思想上重视。理论源</tspan><tspan x="7" y="37.7">于实践，又高于实践。在过去的一年中，我主</tspan><tspan x="7" y="55.4">动加强对政治理论知识的学习，并配合支部的</tspan><tspan x="7" y="73.1">组织生活计划，个人工作总结切实地提高了自</tspan><tspan x="7" y="90.8">己的思想认识，同时注重加强对外界时政的了</tspan><tspan x="7" y="108.5">解，通过学习，提高了自己的政治敏锐性和鉴</tspan><tspan x="7" y="126.2">别能力，坚定了立场，坚定了信念，在大是大</tspan><tspan x="7" y="143.9">非问题面前，能够始终保持清醒的头脑。</tspan></text></g>
<g id="u2" transform="translate(2199,2258)"><rect class="b" width="287" height="312.9"/><text class="t"><tspan x="7" y="20">今年我顺利转正，成为一名中共正式党员，这</tspan><tspan x="7" y="37.7">给了我无限的信心的同时也有更多的压力。时</tspan><tspan x="7" y="55.4">刻提醒着我注意，什么是一个党员该做的，什</tspan><tspan x="7" y="73.1">么是不该做的，更促进了我的进步。首先，我</tspan><tspan x="7" y="90.8">深刻而清楚地认识到自己的缺点和不足，并在</tspan><tspan x="7" y="108.5">生活中循序渐进地改善，一个人改正错误和缺</tspan><tspan x="7" y="126.2">点的过程我想不会再一朝一夕。所以我做好了</tspan><tspan x="7" y="143.9">充分的心理准备。尤其，在组织生活会上，同</tspan><tspan x="7" y="161.6">志们再次提出了我的不足之处，这使我感到自</tspan><tspan x="7" y="179.3">己还有很多路要走还有很多是要学，当然自己</tspan><tspan x="7" y="197">的努力是少不了的。我有信心明年总结的时候</tspan><tspan x="7" y="214.7">可以完全改正一些不足和缺点。因为我是一名</tspan><tspan x="7" y="232.4">党员了，就应该拿出吃苦耐劳的精神，如果连</tspan><tspan x="7" y="250.1">自己的缺点都不能克服还谈什么先锋模范作用</tspan><tspan x="7" y="267.8">。这一年里，我积极响应学校组织的多次党员</tspan><tspan x="7" y="285.5">活动，配合当前的理论前沿，为自己补充新鲜</tspan><tspan x="7" y="303.2">血液。</tspan></text></g>
<g id="u3" transform="translate(2199,2601)"><rect class="b" width="287" height="82.8"/><text class="t"><tspan x="7" y="20">当然，加强理论学习仍将是今后工作和生活中</tspan><tspan x="7" y="37.7">的一项主要的内容。不断加强学习，以适应社</tspan><tspan x="7" y="55.4">会发展的需要，不断的提高自己的政治理论素</tspan><tspan x="7" y="73.1">质，以适应社会经济发展的客观要求。</tspan></text></g>
<g id="v1" transform="translate(2172,2715)"><rect class="b" width="287" height="171.3"/><text class="t"><tspan x="7" y="20">作为新世纪的高等学府的学子，我很骄傲，当</tspan><tspan x="7" y="37.7">然压力也从来没有离开过。研究生的课程学习</tspan><tspan x="7" y="55.4">并不是很重，但是老师的宽松对我来说就像是</tspan><tspan x="7" y="73.1">无形的压力。突然感觉自己好像有好多东西需</tspan><tspan x="7" y="90.8">要学习，所以我不敢放松学习，希望在有限的</tspan><tspan x="7" y="108.5">学生生涯中更多地学到点东西,为将来能更好</tspan><tspan x="7" y="126.2">地为人民服务作准备。所以，我从来不旷课，</tspan><tspan x="7" y="143.9">课上也是认真听讲，当然学习之余也应该劳逸</tspan><tspan x="7" y="161.6">结合。</tspan></text></g>
<g id="v2" transform="translate(2172,2917)"><rect class="b" width="287" height="118.2"/><text class="t"><tspan x="7" y="20">在今年学校的运动会上，我报名参加了舞蹈队</tspan><tspan x="7" y="37.7">的表演，从这次活动中，不但认识了不少同学</tspan><tspan x="7" y="55.4">，也给了我一个锻炼自己交际能力的场所，增</tspan><tspan x="7" y="73.1">加了自己的群众基础。自己从这次活动中收获</tspan><tspan x="7" y="90.8">不少，就是从这次活动中，我知道了，只要有</tspan><tspan x="7" y="108.5">决心，没有做不到的事。</tspan></text></g>
<g id="w1" transform="translate(2214,3065)"><rect class="b" width="287" height="277.5"/><text class="t"><tspan x="7" y="20">进入研究生的学习和生活，相对来说环境比较</tspan><tspan x="7" y="37.7">宽松，我刚开始也放松了对自己的要求，直接</tspan><tspan x="7" y="55.4">的表现就是早上起床经常不叠被了。在一次学</tspan><tspan x="7" y="73.1">习马祖光院士的活动中，我受到了深深的震撼</tspan><tspan x="7" y="90.8">，一位院士有着如此节俭的生活，对一件事可</tspan><tspan x="7" y="108.5">以几十年如一日的坚持完成，多么伟大的人格</tspan><tspan x="7" y="126.2">啊!这使我反省自己，连起码的生活都不注意</tspan><tspan x="7" y="143.9">，在关键时刻也许想注意都难了。从那一天起</tspan><tspan x="7" y="161.6">，我就再也没有不叠被，感觉自己从那时起，</tspan><tspan x="7" y="179.3">就有了生活原则，有了自我监督机制，每天都</tspan><tspan x="7" y="197">会想想今天还有什么没有干好，或是还有什么</tspan><tspan x="7" y="214.7">原定计划没有完成。我深刻地感到，一个好习</tspan><tspan x="7" y="232.4">惯一生受益。注意将工作、学习、娱乐、休息</tspan><tspan x="7" y="250.1">有机的结合起来，将8小时以外的时间合理的</tspan><tspan x="7" y="267.8">利用起来，养成良好的生活习惯。</tspan></text></g>
<g id="w2" transform="translate(2214,3374)"><rect class="b" width="287" height="366"/><text class="t"><tspan x="7" y="20">当然，这一年还留给我一些缺点和不足。首先</tspan><tspan x="7" y="37.7">，在思想上，与新时期党员的标准之间还存在</tspan><tspan x="7" y="55.4">有一定的差距。还需要进一步加强思想政治学</tspan><tspan x="7" y="73.1">习，深入领会，并坚持作到身体力行。以更加</tspan><tspan x="7" y="90.8">饱满的学习热情，以更加积极的精神面貌，开</tspan><tspan x="7" y="108.5">展工作学习;还需要进一步加大对思想政治理</tspan><tspan x="7" y="126.2">论的学习，不断提高个人的思想理论水平。不</tspan><tspan x="7" y="143.9">断加强对人生观、世界观、价值观的改造，争</tspan><tspan x="7" y="161.6">取成为一名优秀的共产党员。其次是交际能力</tspan><tspan x="7" y="179.3">还有待进一步的提高。这也是我的近期目标和</tspan><tspan x="7" y="197">努力方向。通过多参加各种活动，我想会有明</tspan><tspan x="7" y="214.7">显的改善，这也能增加自己的群众基础，更广</tspan><tspan x="7" y="232.4">泛地投身到社会中，坚定为人民服务的决心。</tspan><tspan x="7" y="250.1">还有，可能是个人性格因素，该严肃的场合我</tspan><tspan x="7" y="267.8">并不是非常认真，这也是我的一个缺点，研究</tspan><tspan x="7" y="285.5">生党员也是我为人处事方面的不足。这样很容</tspan><tspan x="7" y="303.2">易造成错觉或误会，这些不足基本还是比较一</tspan><tspan x="7" y="320.9">致的，一个改善了另一个也会有提高。我有信</tspan><tspan x="7" y="338.6">心，有思想准备，更有改正的决心，希望党组</tspan><tspan x="7" y="356.3">织考验我。</tspan></text></g>
<g id="w3" transform="translate(2214,3771)"><rect class="b" width="287" height="118.2"/><text class="t"><tspan x="7" y="20">最后，今后的学习生活和工作中，我要发挥带</tspan><tspan x="7" y="37.7">头作用，认真努力地完成自己的分内工作，注</tspan><tspan x="7" y="55.4">意生活中的细节继承发扬好习惯，坚决摒弃坏</tspan><tspan x="7" y="73.1">习惯。严格按照党员标准衡量自己，做好群众</tspan><tspan x="7" y="90.8">的思想工作、在向周围群众宣传党的路线、方</tspan><tspan x="7" y="108.5">针、政策，进一步提高自己的综合素质。</tspan></text></g>

<!-- 篇6 -->
<g id="x-l" transform="translate(1927,4043)"><rect class="b" width="122.8" height="29.7"/><text class="t" x="7" y="20">一、工作指导方针</text></g>
<g id="y-l" transform="translate(1927,4270)"><rect class="b" width="122.8" height="29.7"/><text class="t" x="7" y="20">二、思想政治工作</text></g>
<g id="z-l" transform="translate(1927,4446)"><rect class="b" width="122.8" height="29.7"/><text class="t" x="7" y="20">三、组织发展工作</text></g>
<g id="aa-l" transform="translate(1927,4909)"><rect class="b" width="122.8" height="29.7"/><text class="t" x="7" y="20">四、组织建设工作</text></g>
<g id="ab-l" transform="translate(1927,5328)"><rect class="b" width="122.8" height="29.7"/><text class="t" x="7" y="20">五、支部创新工作</text></g>
<g id="x1" transform="translate(2076,3919)"><rect class="b" width="287" height="100.5"/><text class="t"><tspan x="7" y="20">以党的xx大精神，"三个代表"重要思想为指</tspan><tspan x="7" y="37.7">导，紧紧围绕经济学院研究生工作的中心，坚</tspan><tspan x="7" y="55.4">持以人为本和服务同学的原则，充分调动广大</tspan><tspan x="7" y="73.1">党员和团员的积极性，努力提高政治思想素质</tspan><tspan x="7" y="90.8">和专业学习能力、专业应用能力。</tspan></text></g>
<g id="x2" transform="translate(2076,4051)"><rect class="b" width="274" height="29.7"/><text class="t" x="7" y="20">工作理念：支持院校工作，服务广大同学。</text></g>
<g id="x3" transform="translate(2076,4111)"><rect class="b" width="287" height="65.1"/><text class="t"><tspan x="7" y="20">工作思路：以政治思想建设为基础，以队伍培</tspan><tspan x="7" y="37.7">养为支撑，以同学全面发展为工作重心与最终</tspan><tspan x="7" y="55.4">目标。</tspan></text></g>
<g id="y1" transform="translate(2076,4208.05)"><rect class="b" width="287" height="153.6"/><text class="t"><tspan x="7" y="20">本支部将积极组织党员，深入学习贯彻xx大</tspan><tspan x="7" y="37.7">精神，准确把握时代脉搏，积极关注社会热点</tspan><tspan x="7" y="55.4">，并结合社会学学科的专业知识背景和学术专</tspan><tspan x="7" y="73.1">长，积极组织党员和非党员同学开展学习讨论</tspan><tspan x="7" y="90.8">和学术科研活动，使本专业全体研究生紧跟时</tspan><tspan x="7" y="108.5">代步伐，与社会同行，提高政治思想素质，牢</tspan><tspan x="7" y="126.2">固掌握科学理论知识，不断提高分析和解决问</tspan><tspan x="7" y="143.9">题的能力。</tspan></text></g>
<g id="z1" transform="translate(2076,4392.9)"><rect class="b" width="287" height="135.9"/><text class="t"><tspan x="7" y="20">严格按照学院党总支的要求，努力做好对入党</tspan><tspan x="7" y="37.7">积极分子、预备党员的支部内的培养教育工作</tspan><tspan x="7" y="55.4">。由于所有积极分子要接受党支部为期一年的</tspan><tspan x="7" y="73.1">考察，所以在第一学期没有发展党员的计划;1</tspan><tspan x="7" y="90.8">1月，安排入党积极分子参加首都经济贸易大</tspan><tspan x="7" y="108.5">学初级党校网上培训，并组织好学员参加网上</tspan><tspan x="7" y="126.2">结业测试;12月党支部将召开转正大会。</tspan></text></g>
<g id="aa1" transform="translate(2076,4559)"><rect class="b" width="287" height="118.2"/><text class="t"><tspan x="7" y="20">1、建立健全党支部民主生活会制度。本支部</tspan><tspan x="7" y="37.7">每月将以党小组(党小组以专业为单位成立，</tspan><tspan x="7" y="55.4">设组长一名)为单位，组织党员召开一次生活</tspan><tspan x="7" y="73.1">会，并做到主题鲜明，形式多样。计划12月</tspan><tspan x="7" y="90.8">召开全支部党员参加的民主生活会，进行批评</tspan><tspan x="7" y="108.5">与自我批评。</tspan></text></g>
<g id="aa2" transform="translate(2076,4708)"><rect class="b" width="287" height="100.5"/><text class="t"><tspan x="7" y="20">2、加强对党员的考察和考核;建立健全组织生</tspan><tspan x="7" y="37.7">活的党员出勤考核制度：如有事不能参加组织</tspan><tspan x="7" y="55.4">生活的党员，须经支委会批准后方生效;无故</tspan><tspan x="7" y="73.1">缺席组织生活的党员，将记录在案，并及时给</tspan><tspan x="7" y="90.8">予提醒。</tspan></text></g>
<g id="aa3" transform="translate(2076,4839)"><rect class="b" width="287" height="47.4"/><text class="t"><tspan x="7" y="20">3、建立健全党支部的工作计划与工作总结制</tspan><tspan x="7" y="37.7">度;</tspan></text></g>
<g id="aa4" transform="translate(2076,4918)"><rect class="b" width="287" height="65.1"/><text class="t"><tspan x="7" y="20">4、建立健全联系群众制度，积极了解和听取</tspan><tspan x="7" y="37.7">非党员群众的意见和建议，提高党员的自律意</tspan><tspan x="7" y="55.4">识，不断完善党支部的工作作风和工作内容;</tspan></text></g>
<g id="aa5" transform="translate(2076,5013)"><rect class="b" width="287" height="47.4"/><text class="t"><tspan x="7" y="20">5、做好本支部党员的党费收缴工作，按时收</tspan><tspan x="7" y="37.7">缴党费。</tspan></text></g>
<g id="aa6" transform="translate(2076,5092)"><rect class="b" width="287" height="65.1"/><text class="t"><tspan x="7" y="20">6、进一步建立完善《经济学院研究生党支部</tspan><tspan x="7" y="37.7">发展党员工作程序》、《经济学院研究生入党</tspan><tspan x="7" y="55.4">材料写作规范》;</tspan></text></g>
<g id="aa7" transform="translate(2076,5188)"><rect class="b" width="287" height="82.8"/><text class="t"><tspan x="7" y="20">7、加强对预备党员的考察：认真审查预备党</tspan><tspan x="7" y="37.7">员的转正申请，考察他们在一年预备期内的各</tspan><tspan x="7" y="55.4">种表现，通过召开支部党员大会讨论他们的转</tspan><tspan x="7" y="73.1">正事宜。</tspan></text></g>
<g id="ab1" transform="translate(2076,5301.45)"><rect class="b" width="287" height="82.8"/><text class="t"><tspan x="7" y="20">将响应党总支的支部创新工作的号召，争取在</tspan><tspan x="7" y="37.7">这一学期里举办一到两次主题鲜明、内容充实</tspan><tspan x="7" y="55.4">、形式灵活的支部创新活动，具体活动形式、</tspan><tspan x="7" y="73.1">时间仍需进一步商议确定。</tspan></text></g>
</g>
</svg>
